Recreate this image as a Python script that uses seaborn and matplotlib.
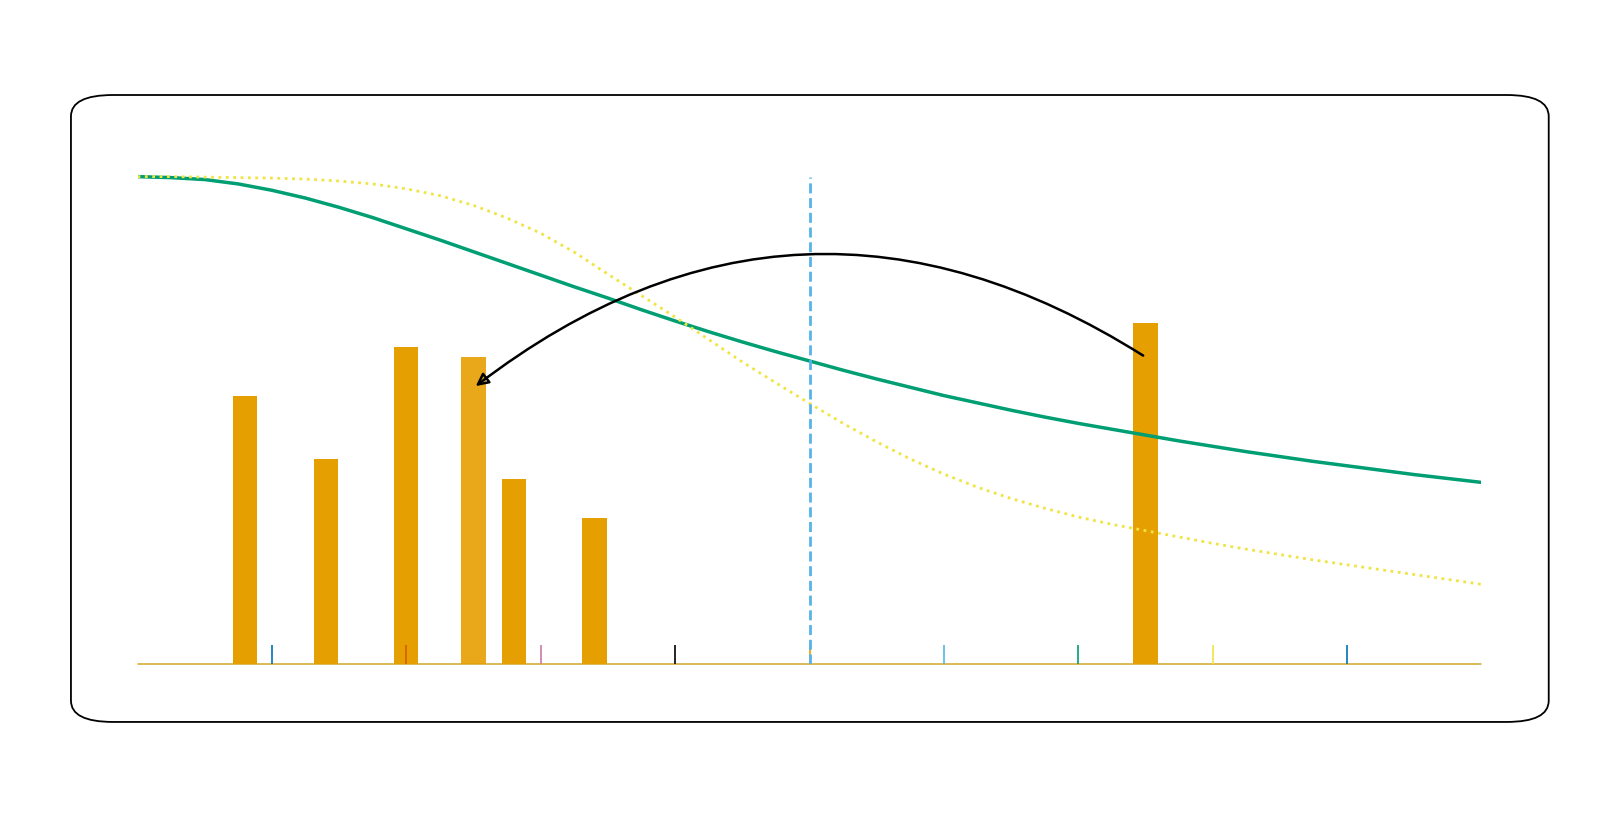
import matplotlib
matplotlib.use("Agg")
import matplotlib.pyplot as plt
import seaborn as sns
from matplotlib.patches import FancyBboxPatch

# Okabe-Ito palette
OKABE_ITO = ["#E69F00", "#56B4E9", "#009E73", "#F0E442",
             "#0072B2", "#D55E00", "#CC79A7", "#000000"]

# Bars
bar_x = [0.8, 1.4, 2.0, 2.5, 2.8, 3.4, 7.5]
bar_h = [0.55, 0.42, 0.65, 0.63, 0.38, 0.30, 0.70]
highlight_idx = 3

# Curves, read every 0.25
curve_x = [0.0, 0.25, 0.5, 0.75, 1.0, 1.25, 1.5, 1.75, 2.0, 2.25, 2.5,
           2.75, 3.0, 3.25, 3.5, 3.75, 4.0, 4.25, 4.5, 4.75, 5.0,
           5.25, 5.5, 5.75, 6.0, 6.25, 6.5, 6.75, 7.0, 7.25, 7.5,
           7.75, 8.0, 8.25, 8.5, 8.75, 9.0, 9.25, 9.5, 9.75, 10.0]
green_y = [1.000, 0.998, 0.994, 0.985, 0.972, 0.956, 0.937, 0.916, 0.893, 0.870, 0.846,
           0.822, 0.798, 0.774, 0.751, 0.727, 0.704, 0.682, 0.661, 0.641, 0.622,
           0.603, 0.585, 0.568, 0.551, 0.536, 0.521, 0.507, 0.494, 0.482, 0.470,
           0.458, 0.447, 0.436, 0.426, 0.416, 0.407, 0.398, 0.389, 0.381, 0.373]
yellow_y = [1.000, 1.000, 0.999, 0.998, 0.997, 0.995, 0.991, 0.985, 0.975, 0.961, 0.941,
            0.915, 0.884, 0.845, 0.800, 0.756, 0.712, 0.666, 0.620, 0.577, 0.535,
            0.494, 0.456, 0.421, 0.390, 0.363, 0.340, 0.320, 0.302, 0.287, 0.274,
            0.261, 0.248, 0.236, 0.225, 0.214, 0.204, 0.194, 0.184, 0.174, 0.164]

# Rug ticks along the baseline
tick_x = [1, 2, 3, 4, 5, 6, 7, 8, 9]
tick_colors = [OKABE_ITO[(t + 3) % 8] for t in tick_x]
tick_len = 0.04

# Reference line and arrow
threshold_x = 5.0
arrow_from = (7.5, 0.63)
arrow_to = (2.5, 0.567)

sns.set_theme(style="white")

fig = plt.figure(figsize=(16.2, 8.19), dpi=100)
ax = fig.add_axes([0.0849, 0.1889, 0.8296, 0.6252])

sns.barplot(x=bar_x, y=bar_h, native_scale=True, width=0.6,
            color=OKABE_ITO[0], saturation=1, linewidth=0,
            errorbar=None, ax=ax, zorder=2)
ax.patches[highlight_idx].set_alpha(0.9)

ax.axhline(0, color="#CFA82A", lw=1.1, zorder=1, clip_on=False)
ax.vlines(tick_x, 0, tick_len, colors=tick_colors, lw=1.2, zorder=3)

sns.lineplot(x=curve_x, y=green_y, color=OKABE_ITO[2], lw=2.5, ax=ax, zorder=4)
sns.lineplot(x=curve_x, y=yellow_y, color=OKABE_ITO[3], lw=2.0,
             linestyle=":", ax=ax, zorder=5)

ax.vlines(threshold_x, 0, 1, colors=OKABE_ITO[1], lw=2.0,
          linestyles=(0, (3.6, 1.7)), zorder=6)

ax.annotate("", xy=arrow_to, xytext=arrow_from,
            arrowprops=dict(arrowstyle="-|>,head_length=0.5,head_width=0.25",
                            connectionstyle="arc3,rad=0.35",
                            ec="black", fc="none", lw=1.8, mutation_scale=15),
            zorder=7)

ax.set_xlim(0, 10)
ax.set_ylim(0, 1.05)
ax.axis("off")

# Rounded frame around the panel
frame = FancyBboxPatch((0.0438, 0.1185), 0.9122, 0.7655,
                       boxstyle="round,pad=0,rounding_size=0.026",
                       transform=fig.transFigure, fill=False,
                       ec="black", lw=1.3)
fig.add_artist(frame)

fig.savefig("out.png", dpi=100)
plt.close(fig)
